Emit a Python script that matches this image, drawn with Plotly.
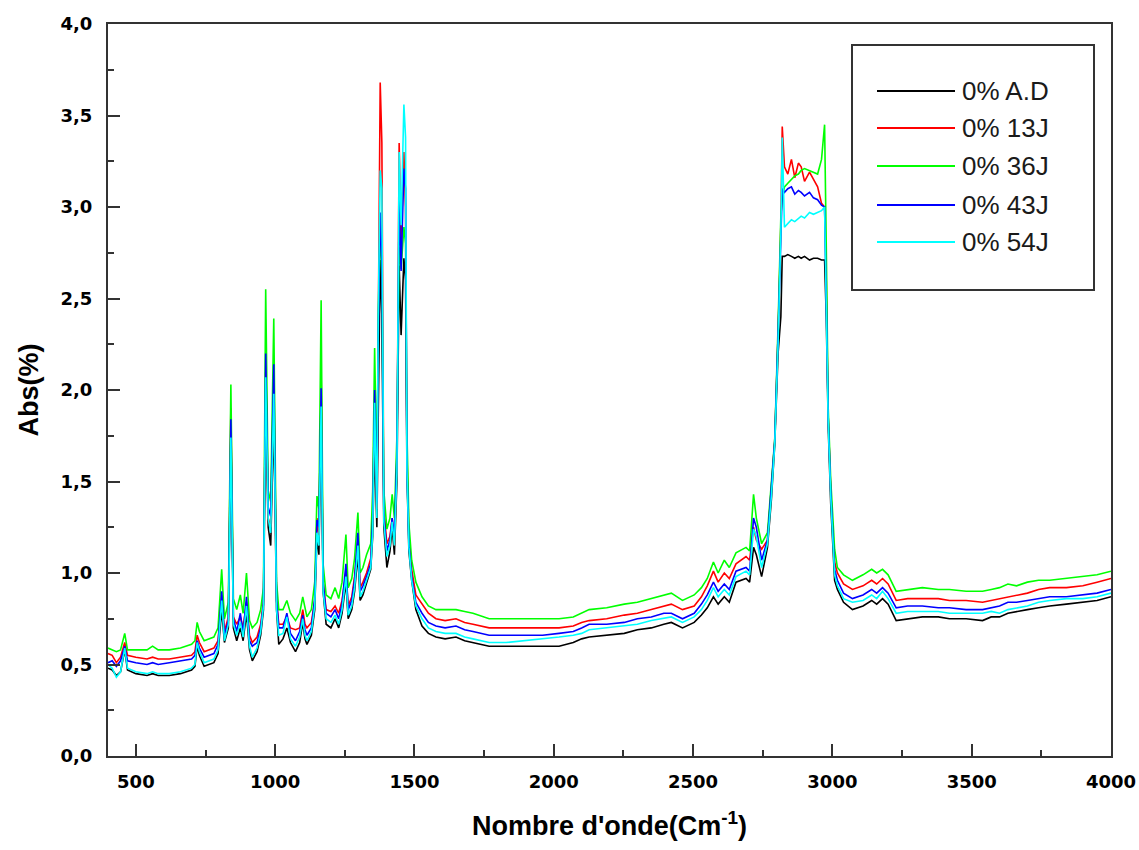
import plotly.graph_objects as go

# ---------------- data ----------------
wavenumber = [400, 415, 430, 445, 460, 470, 500, 540, 560, 580, 620, 660, 700, 712, 720, 728, 745, 780, 795, 808,
              818, 832, 841, 850, 862, 875, 885, 897, 908, 918, 935, 948, 958, 966, 975, 984, 995, 1005, 1013, 1028,
              1042, 1055, 1073, 1088, 1099, 1107, 1114, 1130, 1142, 1150, 1157, 1165, 1172, 1183, 1200, 1215, 1228,
              1240, 1254, 1262, 1275, 1285, 1297, 1305, 1315, 1328, 1343, 1350, 1357, 1365, 1370, 1377, 1383, 1390,
              1401, 1412, 1420, 1428, 1437, 1445, 1452, 1462, 1468, 1473, 1480, 1490, 1505, 1527, 1550, 1577, 1610,
              1649, 1680, 1710, 1768, 1829, 1900, 1960, 2019, 2070, 2100, 2127, 2190, 2253, 2300, 2350, 2395, 2422,
              2462, 2504, 2530, 2551, 2573, 2590, 2612, 2630, 2654, 2690, 2703, 2717, 2727, 2746, 2767, 2781, 2793,
              2805, 2815, 2820, 2828, 2840, 2853, 2865, 2878, 2888, 2900, 2918, 2932, 2947, 2961, 2972, 2978, 2985,
              2994, 3008, 3018, 3040, 3072, 3110, 3141, 3159, 3180, 3200, 3229, 3270, 3323, 3380, 3420, 3480, 3539,
              3570, 3600, 3630, 3661, 3700, 3740, 3780, 3840, 3899, 3950, 4000]

abs_AD = [0.48, 0.47, 0.44, 0.46, 0.58, 0.47, 0.45, 0.44, 0.45, 0.44, 0.44, 0.45, 0.47, 0.49, 0.60, 0.55, 0.49, 0.51, 0.56, 0.80,
          0.62, 0.70, 1.75, 0.70, 0.63, 0.70, 0.63, 0.78, 0.58, 0.52, 0.57, 0.66, 0.80, 1.90, 1.25, 1.15, 1.85, 0.80, 0.61, 0.64,
          0.70, 0.62, 0.57, 0.62, 0.73, 0.64, 0.61, 0.66, 0.80, 1.20, 1.10, 1.85, 0.90, 0.72, 0.70, 0.75, 0.70,
          0.78, 0.95, 0.75, 0.80, 0.90, 1.10, 0.85, 0.88, 0.95, 1.02, 1.20, 1.70, 1.25, 1.80, 2.71, 2.40, 1.25,
          1.03, 1.12, 1.25, 1.10, 1.50, 2.68, 2.30, 2.72, 2.60, 1.54, 1.12, 0.96, 0.80, 0.71, 0.67, 0.65, 0.64,
          0.65, 0.63, 0.62, 0.60, 0.60, 0.60, 0.60, 0.60, 0.62, 0.64, 0.65, 0.66, 0.67, 0.69, 0.70, 0.72, 0.73,
          0.70, 0.73, 0.77, 0.81, 0.87, 0.83, 0.87, 0.84, 0.95, 0.97, 0.95, 1.14, 1.10, 0.98, 1.14, 1.40, 1.70,
          2.20, 2.40, 2.73, 2.73, 2.74, 2.73, 2.72, 2.73, 2.72, 2.73, 2.71, 2.72, 2.72, 2.71, 2.71, 2.40, 1.80,
          1.38, 0.96, 0.91, 0.84, 0.80, 0.82, 0.85, 0.83, 0.86, 0.83, 0.74, 0.75, 0.76, 0.76, 0.75, 0.75, 0.74,
          0.76, 0.76, 0.78, 0.79, 0.80, 0.81, 0.82, 0.83, 0.84, 0.85, 0.87]

abs_13J = [0.56, 0.55, 0.51, 0.54, 0.62, 0.55, 0.54, 0.53, 0.54, 0.53, 0.53, 0.54, 0.55, 0.57, 0.66, 0.62, 0.57, 0.59, 0.63, 0.88,
           0.68, 0.76, 1.90, 0.76, 0.72, 0.76, 0.70, 0.84, 0.66, 0.62, 0.65, 0.72, 0.85, 2.10, 1.30, 1.25, 2.00, 0.85, 0.72, 0.72,
           0.76, 0.70, 0.69, 0.70, 0.80, 0.72, 0.70, 0.73, 0.85, 1.30, 1.20, 2.10, 0.95, 0.80, 0.79, 0.82, 0.78,
           0.85, 1.00, 0.82, 0.87, 0.98, 1.18, 0.92, 0.95, 1.00, 1.08, 1.28, 1.90, 1.35, 2.20, 3.68, 3.35, 1.35,
           1.16, 1.20, 1.30, 1.15, 1.60, 3.35, 2.80, 3.30, 3.00, 1.65, 1.20, 1.02, 0.88, 0.83, 0.78, 0.75, 0.74,
           0.75, 0.73, 0.72, 0.70, 0.70, 0.70, 0.70, 0.70, 0.71, 0.73, 0.74, 0.75, 0.77, 0.78, 0.80, 0.82, 0.83,
           0.80, 0.82, 0.87, 0.93, 1.01, 0.95, 1.00, 0.97, 1.05, 1.09, 1.07, 1.25, 1.18, 1.13, 1.18, 1.45, 1.72,
           2.30, 2.90, 3.44, 3.22, 3.18, 3.26, 3.16, 3.24, 3.22, 3.14, 3.19, 3.15, 3.11, 3.02, 3.00, 2.60, 1.85,
           1.45, 1.06, 1.00, 0.94, 0.91, 0.93, 0.96, 0.94, 0.97, 0.94, 0.85, 0.86, 0.86, 0.86, 0.85, 0.85, 0.84,
           0.85, 0.86, 0.87, 0.88, 0.89, 0.91, 0.92, 0.92, 0.93, 0.95, 0.97]

abs_36J = [0.59, 0.58, 0.57, 0.58, 0.67, 0.58, 0.58, 0.58, 0.60, 0.58, 0.58, 0.59, 0.61, 0.63, 0.73, 0.68, 0.63, 0.65, 0.70, 1.02,
           0.75, 0.84, 2.03, 0.86, 0.80, 0.88, 0.78, 1.00, 0.74, 0.70, 0.73, 0.80, 0.92, 2.55, 1.45, 1.39, 2.39, 0.95, 0.80, 0.80,
           0.85, 0.78, 0.74, 0.78, 0.87, 0.80, 0.76, 0.80, 0.95, 1.42, 1.35, 2.49, 1.05, 0.88, 0.86, 0.92, 0.86,
           0.95, 1.21, 0.92, 0.97, 1.08, 1.33, 1.00, 1.03, 1.10, 1.16, 1.45, 2.23, 1.50, 2.40, 2.91, 2.60, 1.45,
           1.24, 1.30, 1.43, 1.30, 1.75, 2.78, 2.66, 2.89, 2.80, 1.77, 1.27, 1.07, 0.95, 0.87, 0.82, 0.80, 0.80,
           0.80, 0.79, 0.78, 0.75, 0.75, 0.75, 0.75, 0.75, 0.76, 0.78, 0.80, 0.81, 0.83, 0.84, 0.86, 0.88, 0.89,
           0.85, 0.88, 0.92, 0.97, 1.06, 1.00, 1.07, 1.03, 1.11, 1.14, 1.12, 1.43, 1.30, 1.16, 1.22, 1.47, 1.73,
           2.35, 2.95, 3.05, 3.11, 3.13, 3.15, 3.17, 3.18, 3.20, 3.21, 3.20, 3.19, 3.18, 3.26, 3.45, 2.79, 1.90,
           1.51, 1.13, 1.03, 0.99, 0.96, 0.99, 1.02, 1.00, 1.02, 0.99, 0.90, 0.91, 0.92, 0.91, 0.91, 0.90, 0.90,
           0.91, 0.92, 0.94, 0.93, 0.95, 0.96, 0.96, 0.97, 0.98, 0.99, 1.01]

abs_43J = [0.51, 0.52, 0.49, 0.52, 0.60, 0.52, 0.51, 0.50, 0.51, 0.50, 0.51, 0.52, 0.53, 0.55, 0.63, 0.59, 0.54, 0.56, 0.61, 0.90,
           0.66, 0.74, 1.84, 0.75, 0.68, 0.78, 0.67, 0.87, 0.63, 0.60, 0.62, 0.70, 0.83, 2.20, 1.36, 1.31, 2.14, 0.85, 0.70, 0.70,
           0.78, 0.67, 0.63, 0.68, 0.77, 0.69, 0.66, 0.70, 0.86, 1.29, 1.25, 2.01, 0.95, 0.78, 0.76, 0.80, 0.75,
           0.83, 1.05, 0.80, 0.85, 0.96, 1.22, 0.90, 0.93, 0.98, 1.05, 1.30, 2.00, 1.38, 2.30, 2.97, 2.70, 1.32,
           1.12, 1.18, 1.30, 1.20, 1.65, 3.04, 2.65, 3.21, 3.10, 1.58, 1.16, 0.98, 0.84, 0.78, 0.73, 0.71, 0.70,
           0.71, 0.69, 0.68, 0.66, 0.66, 0.66, 0.66, 0.67, 0.68, 0.70, 0.72, 0.72, 0.73, 0.75, 0.76, 0.78, 0.78,
           0.75, 0.78, 0.83, 0.88, 0.95, 0.90, 0.94, 0.91, 1.01, 1.03, 1.01, 1.30, 1.25, 1.07, 1.18, 1.45, 1.72,
           2.30, 2.90, 3.10, 3.08, 3.10, 3.11, 3.07, 3.09, 3.08, 3.06, 3.08, 3.05, 3.04, 3.01, 3.00, 2.50, 1.85,
           1.45, 1.02, 0.96, 0.89, 0.86, 0.88, 0.91, 0.89, 0.92, 0.89, 0.81, 0.82, 0.82, 0.81, 0.81, 0.80, 0.80,
           0.81, 0.82, 0.84, 0.84, 0.85, 0.86, 0.87, 0.87, 0.88, 0.89, 0.91]

abs_54J = [0.50, 0.48, 0.43, 0.46, 0.59, 0.48, 0.46, 0.45, 0.46, 0.45, 0.45, 0.46, 0.48, 0.50, 0.62, 0.57, 0.51, 0.53, 0.58, 0.85,
           0.63, 0.72, 1.74, 0.72, 0.66, 0.73, 0.65, 0.82, 0.60, 0.54, 0.59, 0.68, 0.82, 2.07, 1.30, 1.22, 1.98, 0.80, 0.66, 0.67,
           0.76, 0.64, 0.60, 0.65, 0.75, 0.66, 0.63, 0.68, 0.82, 1.22, 1.15, 1.91, 0.90, 0.75, 0.73, 0.77, 0.72,
           0.80, 0.98, 0.77, 0.82, 0.92, 1.15, 0.87, 0.90, 0.96, 1.03, 1.22, 1.93, 1.30, 2.40, 3.20, 3.10, 1.28,
           1.09, 1.15, 1.28, 1.15, 1.55, 3.30, 2.90, 3.56, 3.38, 1.56, 1.14, 0.96, 0.82, 0.75, 0.70, 0.68, 0.67,
           0.67, 0.65, 0.64, 0.62, 0.62, 0.63, 0.64, 0.65, 0.66, 0.67, 0.69, 0.70, 0.71, 0.72, 0.74, 0.75, 0.76,
           0.73, 0.76, 0.80, 0.85, 0.92, 0.87, 0.91, 0.88, 0.98, 1.01, 0.99, 1.24, 1.20, 1.03, 1.16, 1.42, 1.70,
           2.25, 2.85, 3.38, 2.89, 2.91, 2.93, 2.92, 2.94, 2.95, 2.94, 2.97, 2.96, 2.97, 2.98, 3.00, 2.50, 1.82,
           1.42, 0.99, 0.93, 0.86, 0.84, 0.85, 0.88, 0.86, 0.90, 0.86, 0.78, 0.79, 0.79, 0.79, 0.78, 0.78, 0.78,
           0.79, 0.78, 0.80, 0.81, 0.82, 0.84, 0.85, 0.86, 0.86, 0.87, 0.89]

series_names = ["0% A.D", "0% 13J", "0% 36J", "0% 43J", "0% 54J"]
series_values = [abs_AD, abs_13J, abs_36J, abs_43J, abs_54J]
series_colors = ["#000000", "#FF0000", "#00FF00", "#0000FF", "#00FFFF"]

x_tick_vals = [500, 1000, 1500, 2000, 2500, 3000, 3500, 4000]
x_tick_text = ["500", "1000", "1500", "2000", "2500", "3000", "3500", "4000"]
y_tick_vals = [0.0, 0.5, 1.0, 1.5, 2.0, 2.5, 3.0, 3.5, 4.0]
y_tick_text = ["0,0", "0,5", "1,0", "1,5", "2,0", "2,5", "3,0", "3,5", "4,0"]

# ---------------- figure ----------------
W, H = 1139, 850
L, R, T, B = 108, 1111, 24, 756   # plot area in pixels

fig = go.Figure()
for name, vals, col in zip(series_names, series_values, series_colors):
    fig.add_trace(go.Scatter(x=wavenumber, y=vals, name=name, mode="lines",
                             line=dict(color=col, width=1.6), showlegend=False))

tick_font = dict(family="DejaVu Sans", size=18, color="#000000", weight="bold")
axis_common = dict(showline=True, linecolor="#333333", linewidth=2, mirror=True,
                   showgrid=False, zeroline=False, ticks="inside", tickcolor="#333333",
                   tickwidth=2, ticklen=12, tickfont=tick_font)

fig.update_xaxes(range=[400, 4000], tickmode="array", tickvals=x_tick_vals, ticktext=x_tick_text,
                 minor=dict(ticks="inside", ticklen=6, tickwidth=2, tickcolor="#333333",
                            tickmode="linear", tick0=250, dtick=500),
                 ticklabelstandoff=8,
                 title=dict(text="Nombre d'onde(Cm<sup>-1</sup>)",
                            font=dict(family="Liberation Sans", size=27, color="#000000", weight="bold"),
                            standoff=26),
                 **axis_common)
fig.update_yaxes(range=[0, 4], tickmode="array", tickvals=y_tick_vals, ticktext=y_tick_text,
                 minor=dict(ticks="inside", ticklen=6, tickwidth=2, tickcolor="#333333",
                            tickmode="linear", tick0=0.25, dtick=0.5),
                 ticklabelstandoff=10,
                 title=dict(text="Abs(%)",
                            font=dict(family="Liberation Sans", size=27, color="#000000", weight="bold"),
                            standoff=14),
                 **axis_common)

# ---------------- legend (drawn in paper coordinates) ----------------
def px_x(px):
    return (px - L) / (R - L)

def px_y(py):
    return (B - py) / (B - T)

shapes = [dict(type="rect", xref="paper", yref="paper",
               x0=px_x(852), x1=px_x(1094), y0=px_y(290), y1=px_y(45),
               line=dict(color="#333333", width=2), fillcolor="white", layer="above")]
annotations = []
row_y = [91, 128, 166, 205, 242]
for name, col, ry in zip(series_names, series_colors, row_y):
    shapes.append(dict(type="line", xref="paper", yref="paper",
                       x0=px_x(877), x1=px_x(955), y0=px_y(ry), y1=px_y(ry),
                       line=dict(color=col, width=2), layer="above"))
    annotations.append(dict(xref="paper", yref="paper", x=px_x(960), y=px_y(ry),
                            xanchor="left", yanchor="middle", showarrow=False, text=name,
                            font=dict(family="Liberation Sans", size=26, color="#1a1a1a")))

fig.update_layout(width=W, height=H, margin=dict(l=L, r=W - R, t=T, b=H - B, autoexpand=False),
                  paper_bgcolor="white", plot_bgcolor="white",
                  shapes=shapes, annotations=annotations, showlegend=False)

fig.write_html("out.html")
